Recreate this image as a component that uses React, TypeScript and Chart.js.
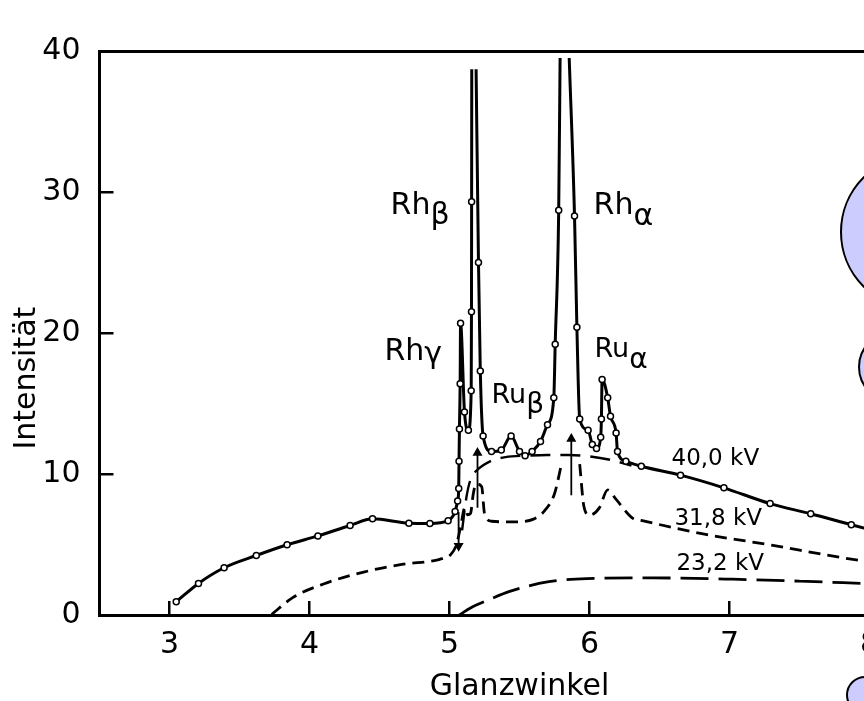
import React, { useEffect, useRef } from "react";
import { Chart, registerables } from "chart.js";

Chart.register(...registerables);

const FAMILY = '"DejaVu Sans", sans-serif';

// ---- axis ticks ----
const xTickValues = [3, 4, 5, 6, 7, 8];
const yTickValues = [0, 10, 20, 30, 40];

// ---- 40,0 kV (solid, with measured points) ----
const kv40X = [
  3.048, 3.207, 3.39, 3.62, 3.84, 4.06, 4.29, 4.45, 4.71, 4.86, 4.99, 5.04, 5.058, 5.066,
  5.068, 5.071, 5.076, 5.079, 5.107, 5.135, 5.155, 5.157, 5.158, 5.159, 5.175, 5.19,
  5.207, 5.22, 5.24, 5.3, 5.37, 5.44, 5.5, 5.54, 5.59, 5.65, 5.7, 5.745, 5.755, 5.78,
  5.79, 5.82, 5.855, 5.893, 5.91, 5.93, 5.99, 6.02, 6.05, 6.08, 6.085, 6.09, 6.13, 6.15,
  6.19, 6.2, 6.26, 6.37, 6.65, 6.96, 7.29, 7.58, 7.87, 8.1,
];
const kv40Y = [
  0.94, 2.24, 3.35, 4.22, 4.98, 5.61, 6.35, 6.82, 6.51, 6.49, 6.69, 7.34, 8.08, 8.98,
  10.9, 13.2, 16.4, 20.7, 14.4, 13.1, 15.9, 21.5, 29.3, 38.7, null, 38.7,
  25.0, 17.3, 12.7, 11.6, 11.7, 12.7, 11.6, 11.3, 11.6, 12.3, 13.5, 15.4, 19.2, 28.7,
  39.5, null, 39.5, 28.3, 20.4, 13.9, 13.1, 12.1, 11.8, 12.6, 13.9, 16.7, 15.4, 14.1,
  12.9, 11.6, 10.9, 10.55, 9.92, 9.02, 7.9, 7.18, 6.4, 5.8,
];
const kv40Marker = [
  1, 1, 1, 1, 1, 1, 1, 1, 1, 1, 1, 1, 1, 1,
  1, 1, 1, 1, 1, 1, 1, 1, 1, 0, 0, 0,
  1, 1, 1, 1, 1, 1, 1, 1, 1, 1, 1, 1, 1, 1,
  0, 0, 0, 1, 1, 1, 1, 1, 1, 1, 1, 1, 1, 1,
  1, 1, 1, 1, 1, 1, 1, 1, 1, 1,
];

// ---- 31,8 kV (short dashes) ----
const kv318X = [
  3.73, 3.88, 4.1, 4.38, 4.67, 4.93, 5.01, 5.05, 5.08, 5.11, 5.13, 5.15, 5.17, 5.19, 5.23,
  5.25, 5.3, 5.45, 5.6, 5.68, 5.75, 5.8, 5.86, 5.93, 5.96, 6.0, 6.07, 6.13, 6.19, 6.31,
  6.36, 6.83, 7.31, 7.69, 7.96, 8.2,
];
const kv318Y = [
  0.05, 1.23, 2.2, 3.03, 3.6, 3.95, 4.3, 5.0, 6.3, 7.6, 7.1, 7.2, 8.6, 9.3, 9.1,
  7.2, 6.65, 6.6, 6.8, 7.4, 8.6, 10.7, null, 10.7, 7.7, 7.07, 7.6, 8.87, 8.2, 6.85,
  6.73, 5.72, 4.94, 4.26, 3.82, 3.45,
];

// ---- 23,2 kV (long dashes) ----
const kv232X = [5.07, 5.15, 5.29, 5.43, 5.71, 5.98, 6.45, 7.02, 7.5, 7.95, 8.2];
const kv232Y = [0.0, 0.5, 1.12, 1.68, 2.36, 2.58, 2.63, 2.54, 2.4, 2.24, 2.15];

// ---- 40 kV continuum under the lines (dashed) ----
const bgX = [5.09, 5.12, 5.15, 5.2, 5.29, 5.4, 5.55, 5.7, 5.85, 6.0, 6.15, 6.3];
const bgY = [6.0, 8.3, 9.6, 10.3, 10.9, 11.2, 11.3, 11.35, 11.35, 11.25, 11.0, 10.6];

// ---- marker arrows ----
const arrowX = [5.2, 5.2, 5.53, 5.87, 5.87, 5.5, 5.065, 5.065];
const arrowY = [7.6, 11.5, null, 8.5, 12.5, null, 7.3, 4.9];
const arrowTip = [0, 1, 0, 0, 1, 0, 0, 1];
const arrowRot = [0, 0, 0, 0, 0, 0, 0, 180];

// ---- line labels ----
const peakMain = ["Rh", "Rh", "Rh", "Ru", "Ru"];
const peakSub = ["\u03B2", "\u03B1", "\u03B3", "\u03B2", "\u03B1"];
const peakX = [4.579, 6.029, 4.535, 5.3, 6.036];
const peakY = [28.42, 28.42, 18.06, 15.02, 18.32];

const kvText = ["40,0 kV", "31,8 kV", "23,2 kV"];
const kvX = [6.586, 6.607, 6.621];
const kvY = [10.64, 6.4, 3.16];

const toPts = (xs: number[], ys: (number | null)[]) => xs.map((x, i) => ({ x, y: ys[i] }));

const annotPlugin = {
  id: "annot",
  afterDraw(chart: any) {
    const ctx = chart.ctx as CanvasRenderingContext2D;
    const xs = chart.scales.x;
    const ys = chart.scales.y;
    ctx.save();
    ctx.fillStyle = "#000";
    ctx.textAlign = "left";
    ctx.textBaseline = "alphabetic";

    // y-axis title
    ctx.save();
    ctx.translate(35, ys.getPixelForValue(16.8));
    ctx.rotate(-Math.PI / 2);
    ctx.font = `30px ${FAMILY}`;
    ctx.textAlign = "center";
    ctx.fillText("Intensit\u00E4t", 0, 0);
    ctx.restore();

    // peak labels
    const mainSize = [30, 30, 30, 27, 27];
    const subSize = [30, 30, 30, 28, 28];
    const subDy = [10, 11, 2.5, 10, 11];
    peakMain.forEach((t, i) => {
      const px = xs.getPixelForValue(peakX[i]);
      const py = ys.getPixelForValue(peakY[i]);
      ctx.font = `${mainSize[i]}px ${FAMILY}`;
      ctx.fillText(t, px, py);
      const w = ctx.measureText(t).width;
      ctx.font = `${subSize[i]}px ${FAMILY}`;
      ctx.fillText(peakSub[i], px + w, py + subDy[i]);
    });

    // voltage labels
    ctx.font = `23px ${FAMILY}`;
    kvText.forEach((t, i) => {
      ctx.fillText(t, xs.getPixelForValue(kvX[i]), ys.getPixelForValue(kvY[i]));
    });

    // lavender bubbles at the right edge
    const bubbles = [
      [918, 232, 77],
      [894, 367, 35],
      [865, 695, 18],
    ];
    ctx.fillStyle = "rgb(204,204,255)";
    ctx.strokeStyle = "#000";
    ctx.lineWidth = 2;
    bubbles.forEach(([cx, cy, r]) => {
      ctx.beginPath();
      ctx.arc(cx, cy, r, 0, Math.PI * 2);
      ctx.fill();
      ctx.stroke();
    });
    ctx.restore();
  },
};

export default function App() {
  const ref = useRef<HTMLCanvasElement | null>(null);

  useEffect(() => {
    if (!ref.current) return;
    const black = "#000";
    const chart = new Chart(ref.current, {
      type: "line",
      data: {
        datasets: [
          {
            label: "40,0 kV",
            data: toPts(kv40X, kv40Y),
            borderColor: black,
            borderWidth: 3,
            cubicInterpolationMode: "monotone",
            spanGaps: false,
            pointStyle: "circle",
            pointRadius: (c: any) => (kv40Marker[c.dataIndex] ? 3 : 0),
            pointBorderWidth: 1.5,
            pointBorderColor: black,
            pointBackgroundColor: "#fff",
          } as any,
          {
            label: "Untergrund",
            data: toPts(bgX, bgY),
            borderColor: black,
            borderWidth: 2.4,
            borderDash: [20, 10],
            cubicInterpolationMode: "monotone",
            pointRadius: 0,
          } as any,
          {
            label: "31,8 kV",
            data: toPts(kv318X, kv318Y),
            borderColor: black,
            borderWidth: 2.8,
            borderDash: [12, 7],
            cubicInterpolationMode: "monotone",
            spanGaps: false,
            pointRadius: 0,
          } as any,
          {
            label: "23,2 kV",
            data: toPts(kv232X, kv232Y),
            borderColor: black,
            borderWidth: 2.8,
            borderDash: [28, 10],
            cubicInterpolationMode: "monotone",
            pointRadius: 0,
          } as any,
          {
            label: "Pfeile",
            data: toPts(arrowX, arrowY),
            borderColor: black,
            borderWidth: 1.8,
            spanGaps: false,
            pointStyle: "triangle",
            pointRadius: (c: any) => (arrowTip[c.dataIndex] ? 4 : 0),
            pointRotation: (c: any) => arrowRot[c.dataIndex] || 0,
            pointBackgroundColor: black,
            pointBorderColor: black,
          } as any,
        ],
      },
      options: {
        animation: false,
        responsive: false,
        devicePixelRatio: 1,
        layout: { padding: { left: 0, top: 21.5, right: 20.5, bottom: 0 } },
        plugins: { legend: { display: false }, tooltip: { enabled: false } },
        scales: {
          x: {
            type: "linear",
            position: "bottom",
            min: 2.5,
            max: 8.5,
            afterBuildTicks: (s: any) => {
              s.ticks = xTickValues.map((v) => ({ value: v }));
            },
            afterFit: (s: any) => {
              s.height = 86;
            },
            border: { display: true, color: black, width: 3 },
            grid: { display: true, drawOnChartArea: false, drawTicks: true, tickLength: -14, color: black, lineWidth: 2.5 },
            ticks: { padding: 26, color: black, font: { family: FAMILY, size: 30 } },
            title: {
              display: true,
              text: "Glanzwinkel",
              color: black,
              font: { family: FAMILY, size: 30 },
              padding: { top: 0, bottom: -4 },
            },
          },
          xTop: {
            type: "linear",
            position: "top",
            min: 2.5,
            max: 8.5,
            afterFit: (s: any) => {
              s.height = 0;
            },
            border: { display: true, color: black, width: 3 },
            grid: { display: false },
            ticks: { display: false },
          },
          y: {
            type: "linear",
            position: "left",
            min: 0,
            max: 40,
            afterBuildTicks: (s: any) => {
              s.ticks = yTickValues.map((v) => ({ value: v }));
            },
            afterFit: (s: any) => {
              s.width = 99.5;
            },
            border: { display: true, color: black, width: 3 },
            grid: { display: true, drawOnChartArea: false, drawTicks: true, tickLength: -14, color: black, lineWidth: 2.5 },
            ticks: { padding: 33, color: black, font: { family: FAMILY, size: 30 } },
          },
        },
      } as any,
      plugins: [annotPlugin],
    });
    return () => chart.destroy();
  }, []);

  return (
    <div
      style={{
        position: "absolute",
        left: 0,
        top: 0,
        width: 864,
        height: 701,
        overflow: "hidden",
        background: "#fff",
      }}
    >
      <canvas ref={ref} width={960} height={701} style={{ display: "block" }} />
    </div>
  );
}
